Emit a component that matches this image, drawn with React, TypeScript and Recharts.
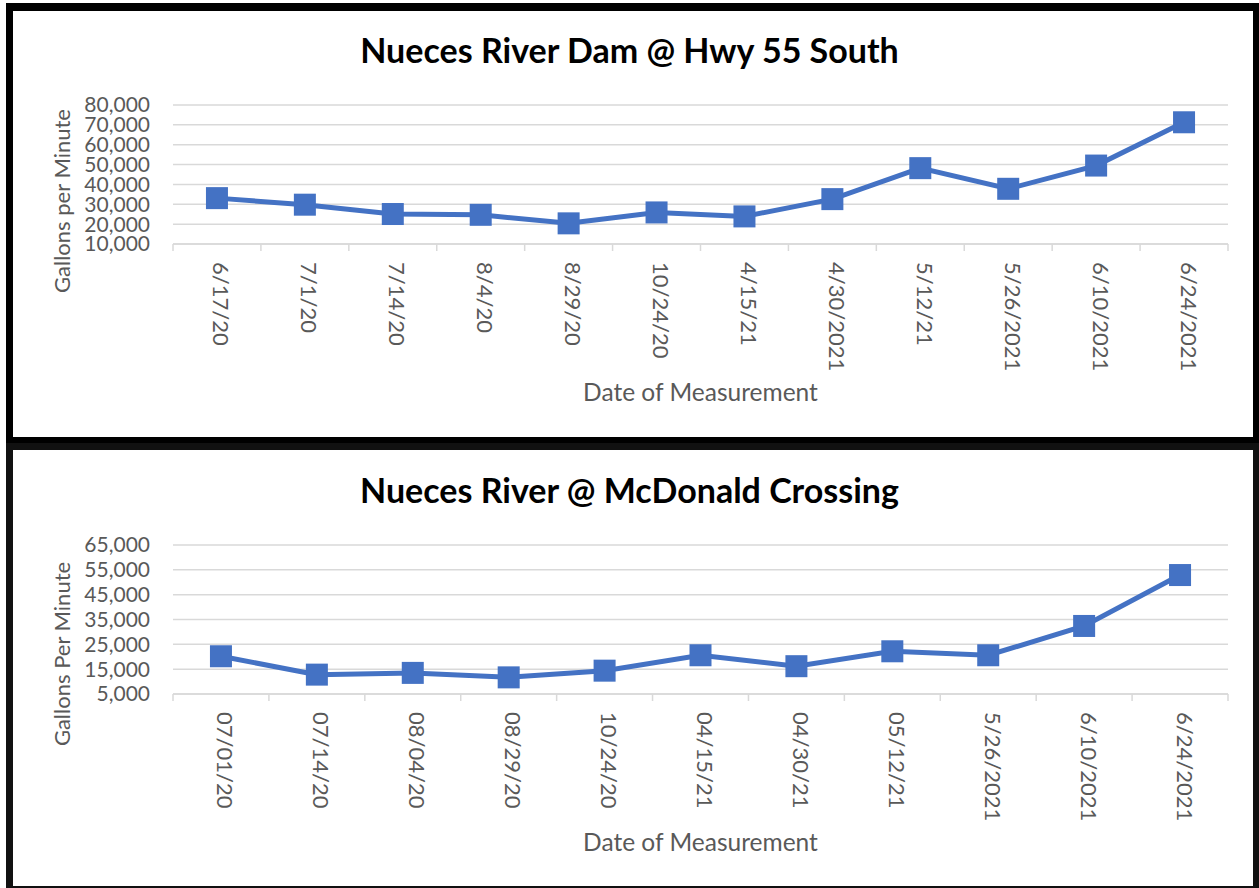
import React from 'react';
import { LineChart, Line, XAxis, YAxis, CartesianGrid } from 'recharts';

// top chart: Nueces River Dam @ Hwy 55 South
const damDates = ['6/17/20', '7/1/20', '7/14/20', '8/4/20', '8/29/20', '10/24/20', '4/15/21', '4/30/2021', '5/12/21', '5/26/2021', '6/10/2021', '6/24/2021'];
const damFlow = [33100, 29800, 25100, 24700, 20400, 25900, 23900, 32600, 48200, 37800, 49500, 71300];
const damTicks = [10000, 20000, 30000, 40000, 50000, 60000, 70000, 80000];

// bottom chart: Nueces River @ McDonald Crossing
const mcdDates = ['07/01/20', '07/14/20', '08/04/20', '08/29/20', '10/24/20', '04/15/21', '04/30/21', '05/12/21', '5/26/2021', '6/10/2021', '6/24/2021'];
const mcdFlow = [20200, 12800, 13500, 11700, 14400, 20600, 16200, 22200, 20600, 32400, 52900];
const mcdTicks = [5000, 15000, 25000, 35000, 45000, 55000, 65000];

const BLUE = '#4472C4';
const GRID = '#d9d9d9';
const TEXT = '#595959';
const FONT = 'Lato, "Open Sans", sans-serif';
const PLOT_LEFT = 173;
const PLOT_RIGHT = 1228;

const SquareDot = (props: any) => {
  const { cx, cy } = props;
  if (cx == null || cy == null) return null;
  return <rect x={cx - 11} y={cy - 11} width={22} height={22} fill={BLUE} />;
};

const makeTick = (count: number, band: number) => (props: any) => {
  const { x, y, payload, index } = props;
  const half = band / 2;
  return (
    <g>
      <line x1={x - half} y1={y} x2={x - half} y2={y + 7} stroke={GRID} strokeWidth={1.5} />
      {index === count - 1 && <line x1={x + half} y1={y} x2={x + half} y2={y + 7} stroke={GRID} strokeWidth={1.5} />}
      <text
        x={x + 18}
        y={y - 5}
        transform={`rotate(90, ${x}, ${y})`}
        textAnchor="start"
        dominantBaseline="central"
        fontSize={22}
        fontFamily={FONT}
        fill={TEXT}
      >
        {payload.value}
      </text>
    </g>
  );
};

type PanelProps = {
  top: number;
  title: string;
  yLabel: string;
  dates: string[];
  values: number[];
  ticks: number[];
  plotTop: number;
  plotBottom: number;
  yLabelY: number;
};

const Panel = ({ top, title, yLabel, dates, values, ticks, plotTop, plotBottom, yLabelY }: PanelProps) => {
  const data = dates.map((d, i) => ({ date: d, flow: values[i] }));
  const band = (PLOT_RIGHT - PLOT_LEFT) / dates.length;
  const H = 440;
  return (
    <div style={{ position: 'absolute', left: 0, top, width: 1259, height: H }}>
      <div style={{ position: 'absolute', left: 0, top: 29, width: 1259, textAlign: 'center', fontFamily: FONT, fontWeight: 700, fontSize: 34, lineHeight: '42px', color: '#000' }}>
        {title}
      </div>
      <div style={{ position: 'absolute', left: 62 - 150, top: yLabelY - 15, width: 300, height: 30, transform: 'rotate(-90deg)', textAlign: 'center', fontFamily: FONT, fontSize: 22, lineHeight: '30px', color: TEXT }}>
        {yLabel}
      </div>
      <div style={{ position: 'absolute', left: 0, top: plotBottom + 148 - 15, width: 1401, textAlign: 'center', fontFamily: FONT, fontSize: 24.5, lineHeight: '30px', color: TEXT }}>
        Date of Measurement
      </div>
      <div style={{ position: 'absolute', left: 0, top: 0 }}>
        <LineChart width={1259} height={H} data={data} margin={{ top: plotTop, right: 1259 - PLOT_RIGHT, bottom: 0, left: 0 }}>
          <CartesianGrid vertical={false} stroke={GRID} strokeWidth={1.5} />
          <XAxis
            dataKey="date"
            interval={0}
            height={H - plotBottom}
            padding={{ left: band / 2, right: band / 2 }}
            axisLine={{ stroke: GRID, strokeWidth: 1.5 }}
            tickLine={false}
            tickSize={0}
            tickMargin={0}
            tick={makeTick(dates.length, band)}
          />
          <YAxis
            type="number"
            domain={[ticks[0], ticks[ticks.length - 1]]}
            ticks={ticks}
            interval={0}
            width={PLOT_LEFT}
            axisLine={false}
            tickLine={false}
            tickSize={0}
            tickMargin={23}
            tick={{ fontSize: 21, fill: TEXT, fontFamily: FONT }}
            tickFormatter={(v: number) => v.toLocaleString('en-US')}
          />
          <Line
            type="linear"
            dataKey="flow"
            stroke={BLUE}
            strokeWidth={5}
            dot={<SquareDot />}
            activeDot={false}
            isAnimationActive={false}
          />
        </LineChart>
      </div>
    </div>
  );
};

const App = () => {
  return (
    <div style={{ position: 'absolute', left: 0, top: 0, width: 1259, height: 888, background: '#fff', overflow: 'hidden' }}>
      <div style={{ position: 'absolute', left: 6, top: 3, width: 1254, height: 441, boxSizing: 'border-box', border: '7px solid #000', borderTopWidth: 8 }} />
      <div style={{ position: 'absolute', left: 6, top: 443, width: 1254, height: 446, boxSizing: 'border-box', border: '7px solid #111', borderBottomWidth: 3 }} />
      <Panel
        top={0}
        title="Nueces River Dam @ Hwy 55 South"
        yLabel="Gallons per Minute"
        dates={damDates}
        values={damFlow}
        ticks={damTicks}
        plotTop={105}
        plotBottom={244}
        yLabelY={201}
      />
      <Panel
        top={440}
        title="Nueces River @ McDonald Crossing"
        yLabel="Gallons Per Minute"
        dates={mcdDates}
        values={mcdFlow}
        ticks={mcdTicks}
        plotTop={105}
        plotBottom={254}
        yLabelY={214}
      />
    </div>
  );
};

export default App;
